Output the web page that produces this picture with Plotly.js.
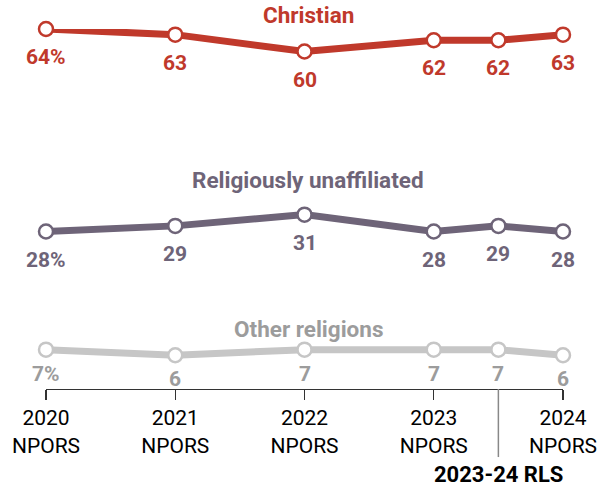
<!DOCTYPE html>
<html>
<head>
<meta charset="utf-8">
<script src="https://cdn.plot.ly/plotly-3.0.1.min.js"></script>
<style>html,body{margin:0;padding:0;background:#fff;}#chart{width:603px;height:487px;}</style>
</head>
<body>
<div id="chart"></div>
<script>
const xVals = [2020, 2021, 2022, 2023, 2023.5, 2024];
const tickVals = [2020, 2021, 2022, 2023, 2024];
const tickText = ["2020<br>NPORS", "2021<br>NPORS", "2022<br>NPORS", "2023<br>NPORS", "2024<br>NPORS"];
const christian = [64, 63, 60, 62, 62, 63];
const unaffiliated = [28, 29, 31, 28, 29, 28];
const other = [7, 6, 7, 7, 7, 6];
const seriesNames = ["Christian", "Religiously unaffiliated", "Other religions"];
const rlsX = 2023.5;
const rlsLabel = "2023-24 RLS";

const series = [
  {name: seriesNames[0], y: christian, line: "#C0392B", label: "#C0392B", titleY: 1.039, shift: -28},
  {name: seriesNames[1], y: unaffiliated, line: "#6E6478", label: "#6E6478", titleY: 0.581, shift: -28},
  {name: seriesNames[2], y: other, line: "#C6C6C6", label: "#9C9C9C", titleY: 0.167, shift: -24}
];

const FONT = "Roboto, 'Liberation Sans', Arial, sans-serif";
const traces = series.map(s => ({
  type: "scatter", mode: "lines+markers", x: xVals, y: s.y, cliponaxis: false,
  line: {color: s.line, width: 7},
  marker: {size: 14, color: "#fff", line: {color: s.line, width: 2.5}},
  hoverinfo: "skip", showlegend: false
}));

const annotations = [];
series.forEach(s => {
  s.y.forEach((v, i) => {
    annotations.push({x: xVals[i], y: v, xref: "x", yref: "y", text: i === 0 ? v + "%" : String(v),
      showarrow: false, yshift: s.shift, font: {family: FONT, size: 21, color: s.label, weight: "bold"}});
  });
  annotations.push({x: 2022.03, y: s.titleY, xref: "x", yref: "paper", yanchor: "middle", text: s.name,
    showarrow: false, font: {family: FONT, size: 22.5, color: s.label, weight: "bold"}});
});
annotations.push({x: rlsX, y: -0.237, xref: "x", yref: "paper", yanchor: "middle", text: rlsLabel,
  showarrow: false, borderpad: 0,
  font: {family: FONT, size: 22, color: "#000", weight: "bold"}});

const layout = {
  width: 603, height: 487,
  margin: {l: 46, r: 40, t: 29, b: 98},
  paper_bgcolor: "#fff", plot_bgcolor: "#fff",
  xaxis: {range: [2020, 2024], tickvals: tickVals, ticktext: tickText, showline: true, linecolor: "#333",
    linewidth: 1.2, ticks: "outside", ticklen: 10, tickcolor: "#333", tickwidth: 1.2, showgrid: false,
    zeroline: false, fixedrange: true, tickfont: {family: FONT, size: 21, color: "#000"}},
  yaxis: {range: [0, 64], visible: false, showgrid: false, zeroline: false, fixedrange: true},
  shapes: [{type: "line", xref: "x", yref: "paper", x0: rlsX, x1: rlsX, y0: 0, y1: -0.189,
    line: {color: "#888", width: 1.5}}],
  annotations: annotations
};

Plotly.newPlot("chart", traces, layout, {displayModeBar: false, staticPlot: true});
</script>
</body>
</html>
